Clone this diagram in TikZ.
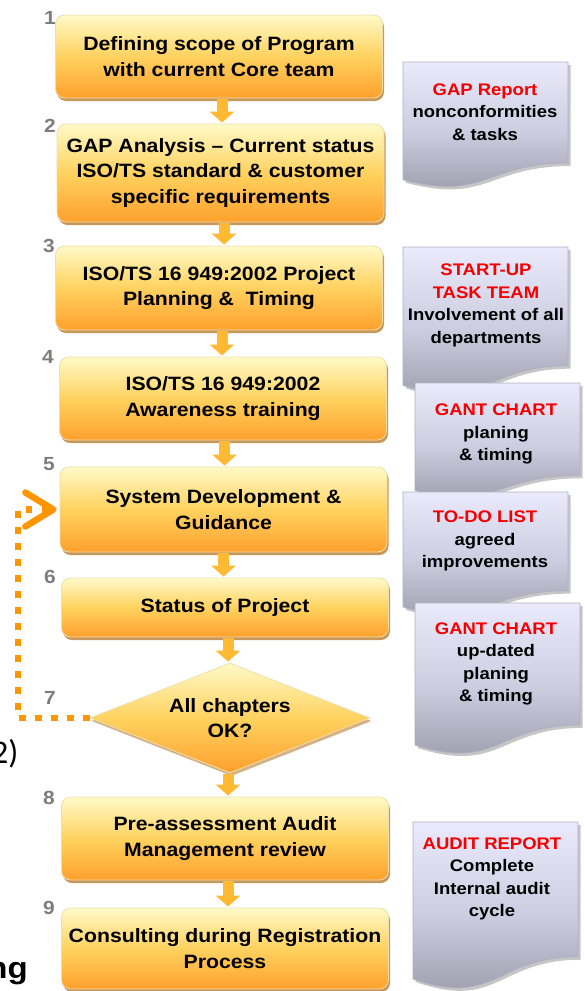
\documentclass[tikz,border=0pt]{standalone}
\usepackage{fontspec}
\setmainfont{Liberation Sans}[FakeStretch=1.1]
\newfontfamily\calfont{Carlito}
\usetikzlibrary{shapes.geometric,arrows.meta,shadows}
\definecolor{arrowc}{RGB}{255,185,50}
\definecolor{fbcol}{RGB}{255,150,0}
\definecolor{numc}{RGB}{125,125,125}
\definecolor{redt}{RGB}{245,0,0}
\definecolor{boxtop}{RGB}{255,250,200}
\definecolor{boxmid}{RGB}{255,210,95}
\definecolor{boxbot}{RGB}{255,160,45}
\definecolor{boxedge}{RGB}{238,222,170}
\definecolor{boxshadow}{RGB}{185,125,50}
\definecolor{doctop}{RGB}{234,234,252}
\definecolor{docmid}{RGB}{205,205,225}
\definecolor{docbot}{RGB}{150,150,165}
\definecolor{docedge}{RGB}{175,175,192}
\newcommand\docshape[4]{%
  \fill[black!50,opacity=0.45,xshift=2.5pt,yshift=-3pt]
    (#1,#2) -- (#3,#2) -- (#3,{#2+0.802*#4})
    .. controls ({(#1+#3)/2},{#2+0.802*#4}) and ({(#1+#3)/2},{#2+1.107*#4}) ..
    (#1,{#2+0.934*#4}) -- cycle;
  \draw[docedge,line width=0.8pt,top color=doctop,bottom color=docbot,middle color=docmid]
    (#1,#2) -- (#3,#2) -- (#3,{#2+0.802*#4})
    .. controls ({(#1+#3)/2},{#2+0.802*#4}) and ({(#1+#3)/2},{#2+1.107*#4}) ..
    (#1,{#2+0.934*#4}) -- cycle;
}
\tikzset{
  stepbox/.style={rectangle,rounded corners=9pt,minimum width=327pt,inner sep=2pt,
    align=center,font=\bfseries\fontsize{19.3}{25.5}\selectfont,
    draw=boxedge,line width=0.8pt,top color=boxtop,bottom color=boxbot,middle color=boxmid,
    drop shadow={shadow xshift=1.5pt,shadow yshift=-3pt,fill=boxshadow,opacity=0.8}},
  decision/.style={diamond,aspect=2.545,minimum width=280pt,minimum height=110pt,inner sep=0pt,
    align=center,font=\bfseries\fontsize{19.3}{25.5}\selectfont,
    draw=boxedge,line width=0.8pt,top color=boxtop,bottom color=boxbot,middle color=boxmid,
    drop shadow={shadow xshift=1.5pt,shadow yshift=-3pt,fill=boxshadow,opacity=0.6}},
  doctext/.style={align=center,inner sep=0pt,font=\bfseries\fontsize{16.8}{22.5}\selectfont},
  numlabel/.style={inner sep=0pt,text=numc,font=\bfseries\fontsize{19}{19}\selectfont},
  blockarrow/.style={draw=arrowc,line width=11pt,shorten <=1pt,shorten >=1pt,
    -{Triangle[length=11pt,width=24pt]}},
  feedback/.style={draw=fbcol,line width=6.5pt,dash pattern=on 6.5pt off 9.5pt,
    shorten >=3pt,-{Straight Barb[length=28pt,width=34pt,round]}}
}
\begin{document}
\begin{tikzpicture}[x=1pt,y=-1pt]
\useasboundingbox (0,0) rectangle (584,991);
% documents
\docshape{403}{62}{568}{126}
\docshape{403}{247}{568}{148}
\docshape{415}{383}{580}{115}
\docshape{403}{492}{568}{123}
\docshape{415}{603}{580}{152}
\docshape{413}{822}{578}{168}
\node[doctext] (d1) at (485,112) {\textcolor{redt}{GAP Report}\\nonconformities\\\& tasks};
\node[doctext] (d2) at (486,305.5) {\textcolor{redt}{START-UP}\\\textcolor{redt}{TASK TEAM}\\Involvement of all\\departments};
\node[doctext] (d3) at (496,434) {\textcolor{redt}{GANT CHART}\\planing\\\& timing};
\node[doctext] (d4) at (485,541) {\textcolor{redt}{TO-DO LIST}\\agreed\\improvements};
\node[doctext] (d5) at (496,664) {\textcolor{redt}{GANT CHART}\\up-dated\\planing\\\& timing};
\node[doctext] (d6) at (492,879) {\textcolor{redt}{AUDIT REPORT}\\Complete\\Internal audit\\cycle};
% steps
\node[stepbox,minimum height=83pt] (b1) at (219,56.5) {Defining scope of Program\\with current Core team};
\node[stepbox,minimum height=98pt] (b2) at (220.5,173) {GAP Analysis -- Current status\\ISO/TS standard \& customer\\specific requirements};
\node[stepbox,minimum height=84pt] (b3) at (219,288) {ISO/TS 16 949:2002 Project\\Planning \& \ Timing};
\node[stepbox,minimum height=83pt] (b4) at (223,398.5) {ISO/TS 16 949:2002\\Awareness training};
\node[stepbox,minimum height=85pt] (b5) at (223.5,509.5) {System Development \&\\Guidance};
\node[stepbox,minimum height=59pt] (b6) at (225,607.5) {Status of Project};
\node[decision] (dia) at (230,718) {All chapters\\OK?};
\node[stepbox,minimum height=83pt] (b8) at (225,838.5) {Pre-assessment Audit\\Management review};
\node[stepbox,minimum height=81pt] (b9) at (225,948.5) {Consulting during Registration\\Process};
% numbers
\node[numlabel] (n1) at (50,18) {1};
\node[numlabel] (n2) at (50,126) {2};
\node[numlabel] (n3) at (49,246) {3};
\node[numlabel] (n4) at (48,357) {4};
\node[numlabel] (n5) at (49,464) {5};
\node[numlabel] (n6) at (50,577) {6};
\node[numlabel] (n7) at (50,698) {7};
\node[numlabel] (n8) at (49,798) {8};
\node[numlabel] (n9) at (49,908) {9};
% arrows
\draw[blockarrow] ([xshift=3pt]b1.south) -- ([xshift=3pt]b1.south |- b2.north);
\draw[blockarrow] ([xshift=3.5pt]b2.south) -- ([xshift=3.5pt]b2.south |- b3.north);
\draw[blockarrow] ([xshift=3pt]b3.south) -- ([xshift=3pt]b3.south |- b4.north);
\draw[blockarrow] ([xshift=1.5pt]b4.south) -- ([xshift=1.5pt]b4.south |- b5.north);
\draw[blockarrow] ([xshift=0pt]b5.south) -- ([xshift=0pt]b5.south |- b6.north);
\draw[blockarrow] ([xshift=3pt]b6.south) -- ([xshift=3pt]b6.south |- dia.north);
\draw[blockarrow] ([xshift=-2pt]dia.south) -- ([xshift=-2pt]dia.south |- b8.north);
\draw[blockarrow] ([xshift=3pt]b8.south) -- ([xshift=3pt]b8.south |- b9.north);
% feedback loop
\coordinate (fbk) at (18,614);
\draw[feedback] (dia.west) -| (fbk) |- (b5.west);
% cut-off texts at left edge
\node[anchor=base east,inner sep=0pt,font=\calfont\fontsize{33}{33}\selectfont] (t2) at (18.5,763) {2)};
\node[anchor=base east,inner sep=0pt,font=\bfseries\fontsize{30}{30}\selectfont] (tng) at (28,978) {ng};
\end{tikzpicture}
\end{document}
